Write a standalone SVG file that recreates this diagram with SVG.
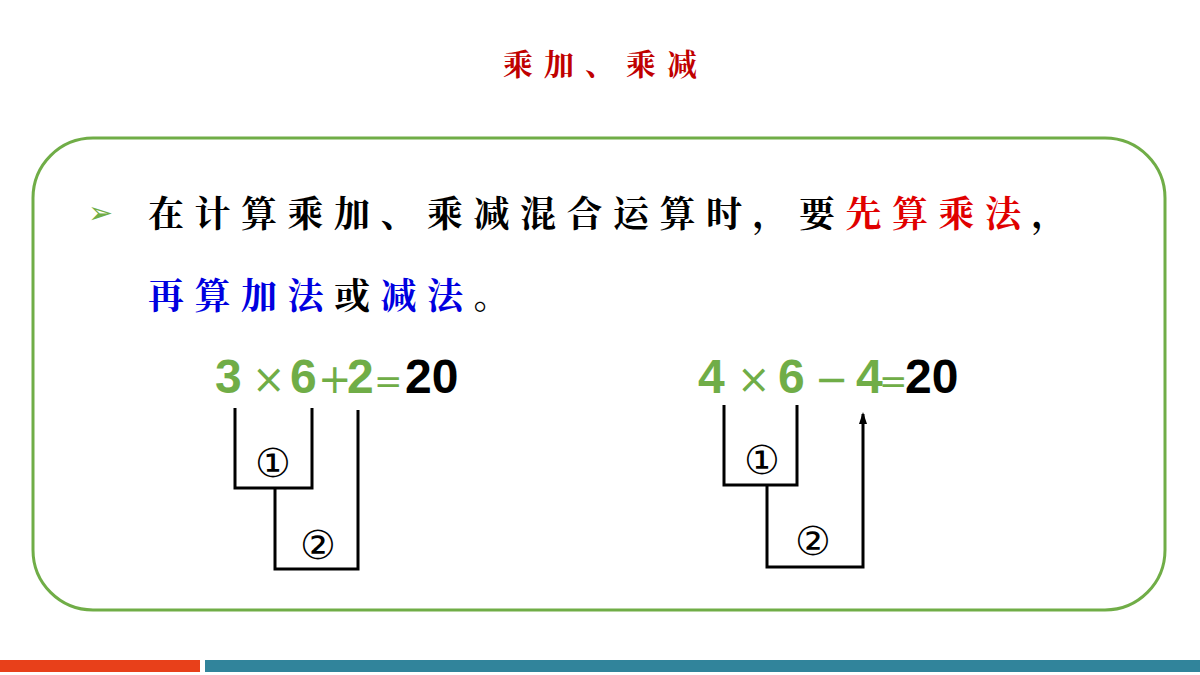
<svg xmlns="http://www.w3.org/2000/svg" width="1200" height="675" viewBox="0 0 1200 675">
<style>
.cn{font-family:"Noto Serif CJK SC","Noto Sans CJK SC",serif;font-size:36px;font-weight:bold;letter-spacing:10.5px}
.eq{font-family:"Liberation Sans",Arial,sans-serif;font-size:48px;font-weight:bold;fill:#70ad47}
.op{font-family:"DejaVu Sans",sans-serif;font-size:40px;font-weight:normal;fill:#70ad47}
.k{fill:#000}
.ln{stroke:#000;stroke-width:3;fill:none}
.c{font-family:"DejaVu Serif",serif;font-size:40px;fill:#000}
</style>
<defs><marker id="ah" markerWidth="12" markerHeight="8" refX="10" refY="4" orient="auto" markerUnits="userSpaceOnUse"><path d="M0,0 L12,4 L0,8 Z" fill="#000"/></marker></defs>
<rect width="1200" height="675" fill="#fff"/>
<text x="503" y="75" class="cn" style="font-size:30px;letter-spacing:11px" fill="#c00000">乘加、乘减</text>
<g id="box"><rect x="33" y="138" width="1132" height="472" rx="60" fill="none" stroke="#70ad47" stroke-width="3"/></g>
<g id="text">
<text x="88" y="223" font-family="DejaVu Sans,sans-serif" font-size="30" fill="#70ad47">➢</text>
<text x="148" y="227" class="cn" fill="#000">在计算乘加、乘减混合运算时，要<tspan fill="#e00000">先算乘法</tspan>，</text>
<text x="148" y="309" class="cn" fill="#0000e0">再算加法<tspan fill="#000">或</tspan>减法<tspan fill="#000">。</tspan></text>
</g>
<g id="eq1">
<text class="eq" y="393"><tspan x="215">3</tspan><tspan x="252" class="op">×</tspan><tspan x="290">6</tspan><tspan x="318" class="op">+</tspan><tspan x="347">2</tspan><tspan x="374" class="op" style="font-size:34px">=</tspan><tspan x="405" class="k">20</tspan></text>
<text x="273" y="477" class="c" text-anchor="middle">①</text>
<text x="318" y="559" class="c" text-anchor="middle">②</text>
</g>
<g id="eq2">
<text class="eq" y="393"><tspan x="698">4</tspan><tspan x="737" class="op">×</tspan><tspan x="778">6</tspan><tspan x="815" class="op">−</tspan><tspan x="856">4</tspan><tspan x="879" class="op" style="font-size:34px">=</tspan><tspan x="905" class="k">20</tspan></text>
<text x="762" y="474" class="c" text-anchor="middle">①</text>
<text x="813" y="555" class="c" text-anchor="middle">②</text>
</g>
<g id="connectors">
<path class="ln" d="M235,408 V488 H312 V408 M275,488 V569 H358 V410"/>
<path class="ln" d="M724,405 V485 H797 V405 M767,485 V567 H863 V414" marker-end="url(#ah)"/>
</g>
<rect x="0" y="660" width="200" height="12" fill="#e8401a"/>
<rect x="205" y="660" width="995" height="12" fill="#31849b"/>
</svg>
